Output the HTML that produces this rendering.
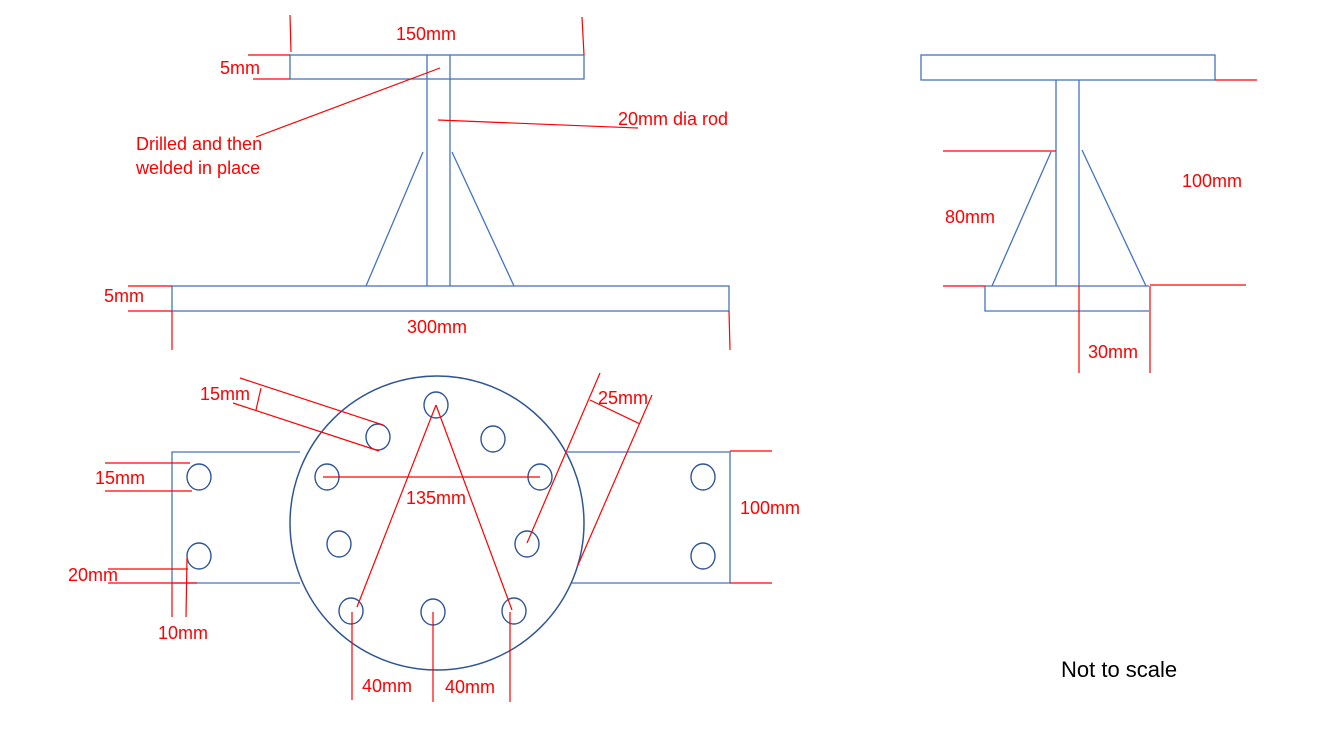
<!DOCTYPE html>
<html><head><meta charset="utf-8"><style>
html,body{margin:0;padding:0;background:#fff;}
svg{display:block;}
text{font-family:"Liberation Sans",sans-serif;font-size:18px;fill:#ff0000;}
</style></head><body>
<svg width="1333" height="750" viewBox="0 0 1333 750" xmlns="http://www.w3.org/2000/svg">
<g fill="none" stroke="#4472c4" stroke-width="1.3">
<rect x="290" y="55" width="294" height="24"/>
<line x1="427" y1="55" x2="427" y2="286"/>
<line x1="450" y1="55" x2="450" y2="286"/>
<line x1="423" y1="152" x2="366" y2="286"/>
<line x1="452" y1="152" x2="514" y2="286"/>
<rect x="172" y="286" width="557" height="25"/>
<rect x="921" y="55" width="294" height="25"/>
<line x1="1056" y1="80" x2="1056" y2="286"/>
<line x1="1079" y1="80" x2="1079" y2="286"/>
<line x1="1051" y1="152" x2="992" y2="286"/>
<line x1="1082" y1="150" x2="1146" y2="286"/>
<path d="M985 286 H1149 M985 286 V311 H1149"/>
<path d="M300 452 H172 V583 H300"/>
<path d="M567 452 H730 V583 H572"/>
</g>
<circle cx="437" cy="523" r="147" fill="none" stroke="#2f5597" stroke-width="1.5"/>
<g fill="none" stroke="#2f5597" stroke-width="1.4">
<ellipse cx="436" cy="405" rx="12" ry="13"/>
<ellipse cx="378" cy="437" rx="12" ry="13"/>
<ellipse cx="493" cy="439" rx="12" ry="13"/>
<ellipse cx="327" cy="477" rx="12" ry="13"/>
<ellipse cx="540" cy="477" rx="12" ry="13"/>
<ellipse cx="339" cy="544" rx="12" ry="13"/>
<ellipse cx="527" cy="544" rx="12" ry="13"/>
<ellipse cx="351" cy="611" rx="12" ry="13"/>
<ellipse cx="433" cy="612" rx="12" ry="13"/>
<ellipse cx="514" cy="611" rx="12" ry="13"/>
<ellipse cx="199" cy="477" rx="12" ry="13"/>
<ellipse cx="199" cy="556" rx="12" ry="13"/>
<ellipse cx="703" cy="477" rx="12" ry="13"/>
<ellipse cx="703" cy="556" rx="12" ry="13"/>
</g>
<g stroke="#ff0000" stroke-width="1.2" fill="none">
<line x1="290" y1="15" x2="291" y2="52"/>
<line x1="582" y1="17" x2="584" y2="55"/>
<line x1="248" y1="55" x2="290" y2="55"/>
<line x1="253" y1="79" x2="290" y2="79"/>
<line x1="440" y1="68" x2="256" y2="137"/>
<line x1="438" y1="120" x2="638" y2="128"/>
<line x1="128" y1="286" x2="172" y2="286"/>
<line x1="128" y1="311" x2="172" y2="311"/>
<line x1="172" y1="311" x2="172" y2="350"/>
<line x1="729" y1="311" x2="730" y2="350"/>
<line x1="1215" y1="80" x2="1257" y2="80"/>
<line x1="943" y1="151" x2="1056" y2="151"/>
<line x1="943" y1="286" x2="985" y2="286"/>
<line x1="1150" y1="285" x2="1246" y2="285"/>
<line x1="1079" y1="286" x2="1079" y2="373"/>
<line x1="1150" y1="286" x2="1150" y2="373"/>
<line x1="240" y1="378" x2="383" y2="425"/>
<line x1="233" y1="403" x2="379" y2="451"/>
<line x1="261" y1="388" x2="256" y2="410"/>
<line x1="105" y1="463" x2="190" y2="463"/>
<line x1="105" y1="491" x2="192" y2="491"/>
<line x1="108" y1="569" x2="188" y2="569"/>
<line x1="108" y1="583" x2="197" y2="583"/>
<line x1="172" y1="583" x2="172" y2="617"/>
<line x1="187" y1="558" x2="186" y2="617"/>
<line x1="323" y1="477" x2="540" y2="477"/>
<line x1="436" y1="405" x2="357" y2="607"/>
<line x1="436" y1="405" x2="512" y2="610"/>
<line x1="352" y1="612" x2="352" y2="700"/>
<line x1="433" y1="612" x2="433" y2="702"/>
<line x1="510" y1="612" x2="510" y2="702"/>
<line x1="600" y1="373" x2="527" y2="543"/>
<line x1="652" y1="395" x2="578" y2="565"/>
<line x1="590" y1="400" x2="640" y2="424"/>
<line x1="730" y1="451" x2="772" y2="451"/>
<line x1="730" y1="583" x2="772" y2="583"/>
</g>
<text x="396" y="40">150mm</text>
<text x="220" y="74">5mm</text>
<text x="618" y="125">20mm dia rod</text>
<text x="136" y="150">Drilled and then</text>
<text x="136" y="174">welded in place</text>
<text x="104" y="302">5mm</text>
<text x="407" y="333">300mm</text>
<text x="1182" y="187">100mm</text>
<text x="945" y="223">80mm</text>
<text x="1088" y="358">30mm</text>
<text x="200" y="400">15mm</text>
<text x="598" y="404">25mm</text>
<text x="95" y="484">15mm</text>
<text x="406" y="504">135mm</text>
<text x="740" y="514">100mm</text>
<text x="68" y="581">20mm</text>
<text x="158" y="639">10mm</text>
<text x="362" y="692">40mm</text>
<text x="445" y="693">40mm</text>
<text x="1061" y="677" style="fill:#000;font-size:22px">Not to scale</text>
</svg>
</body></html>
